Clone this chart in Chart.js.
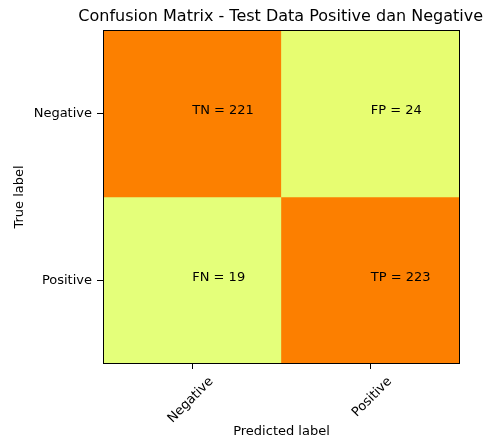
<!DOCTYPE html>
<html>
<head>
<meta charset="utf-8">
<script src="https://cdn.jsdelivr.net/npm/chart.js@4.4.0/dist/chart.umd.min.js"></script>
<style>
  body { margin: 0; background: #fff; }
  canvas { display: block; }
</style>
</head>
<body>
<canvas id="cmChart" width="486" height="441"></canvas>
<script>
// confusion matrix data
const classNames = ['Negative', 'Positive'];
const cellNames = [['TN', 'FP'], ['FN', 'TP']];
const row0 = [221, 24];
const row1 = [19, 223];
const matrix = [row0, row1];

// Wistia colormap stops
const wistia = [
  [0.0, [228, 255, 122]],
  [0.25, [255, 232, 26]],
  [0.5, [255, 189, 0]],
  [0.75, [255, 160, 0]],
  [1.0, [252, 127, 0]]
];

function wistiaColor(t) {
  for (let k = 0; k < wistia.length - 1; k++) {
    const a = wistia[k], b = wistia[k + 1];
    if (t <= b[0]) {
      const f = (t - a[0]) / (b[0] - a[0]);
      const c = a[1].map((v, i) => Math.round(v + (b[1][i] - v) * f));
      return 'rgb(' + c.join(',') + ')';
    }
  }
  return 'rgb(' + wistia[wistia.length - 1][1].join(',') + ')';
}

const allVals = matrix.flat();
const vMin = Math.min(...allVals);
const vMax = Math.max(...allVals);

Chart.defaults.font.family = "'DejaVu Sans', sans-serif";
Chart.defaults.font.size = 13;
Chart.defaults.color = '#000';

const datasets = matrix.map((row, i) => ({
  label: classNames[i],
  data: row.map(() => [i - 0.5, i + 0.5]),
  backgroundColor: row.map(v => wistiaColor((v - vMin) / (vMax - vMin))),
  borderWidth: 0,
  barPercentage: 1,
  categoryPercentage: 1,
  grouped: false
}));

// frame around the plot like matplotlib spines
const framePlugin = {
  id: 'frame',
  afterDatasetsDraw(chart) {
    const a = chart.chartArea;
    const ctx = chart.ctx;
    ctx.save();
    ctx.strokeStyle = '#000';
    ctx.lineWidth = 1;
    ctx.strokeRect(Math.round(a.left) + 0.5, Math.round(a.top) + 0.5,
      Math.round(a.right - a.left) - 1, Math.round(a.bottom - a.top) - 1);
    ctx.restore();
  }
};

// "TN = 221" style text, starting at the cell centre
const cellTextPlugin = {
  id: 'cellText',
  afterDatasetsDraw(chart) {
    const ctx = chart.ctx;
    const yScale = chart.scales.y;
    ctx.save();
    ctx.font = "13px 'DejaVu Sans', sans-serif";
    ctx.fillStyle = '#000';
    ctx.textAlign = 'left';
    ctx.textBaseline = 'alphabetic';
    matrix.forEach((row, i) => {
      const meta = chart.getDatasetMeta(i);
      row.forEach((v, j) => {
        const x = meta.data[j].x;
        const y = yScale.getPixelForValue(i);
        ctx.fillText(cellNames[i][j] + ' = ' + v, x, y);
      });
    });
    ctx.restore();
  }
};

const ctx = document.getElementById('cmChart').getContext('2d');

new Chart(ctx, {
  type: 'bar',
  data: {
    labels: classNames,
    datasets: datasets
  },
  options: {
    responsive: false,
    animation: false,
    layout: { padding: { left: 0, right: 3, top: 0, bottom: 1 } },
    plugins: {
      legend: { display: false },
      tooltip: { enabled: false },
      title: {
        display: true,
        text: 'Confusion Matrix - Test Data Positive dan Negative',
        align: 'end',
        font: { size: 16, weight: 'normal' },
        color: '#000',
        padding: { top: 7, bottom: 3.8 }
      }
    },
    scales: {
      x: {
        type: 'category',
        offset: true,
        grid: { drawOnChartArea: false, offset: false, color: '#000', tickLength: 5 },
        border: { display: false },
        ticks: { minRotation: 45, maxRotation: 45, labelOffset: 19, padding: 5, color: '#000' },
        title: { display: true, text: 'Predicted label', color: '#000', padding: { top: 0, bottom: 1 } },
        afterFit(scale) { scale.height = 76; }
      },
      y: {
        type: 'linear',
        min: -0.5,
        max: 1.5,
        reverse: true,
        grid: { drawOnChartArea: false, color: '#000', tickLength: 6 },
        border: { display: false },
        afterBuildTicks(scale) {
          scale.ticks = classNames.map((n, i) => ({ value: i }));
        },
        ticks: {
          padding: 5,
          color: '#000',
          callback: (v) => classNames[v]
        },
        title: { display: true, text: 'True label', color: '#000', padding: { top: 12, bottom: 0 } },
        afterFit(scale) { scale.width = 103; }
      },
      yRight: {
        type: 'linear',
        position: 'right',
        display: true,
        grid: { display: false },
        border: { display: false },
        ticks: { display: false },
        afterFit(scale) { scale.width = 23; }
      }
    }
  },
  plugins: [framePlugin, cellTextPlugin]
});
</script>
</body>
</html>
